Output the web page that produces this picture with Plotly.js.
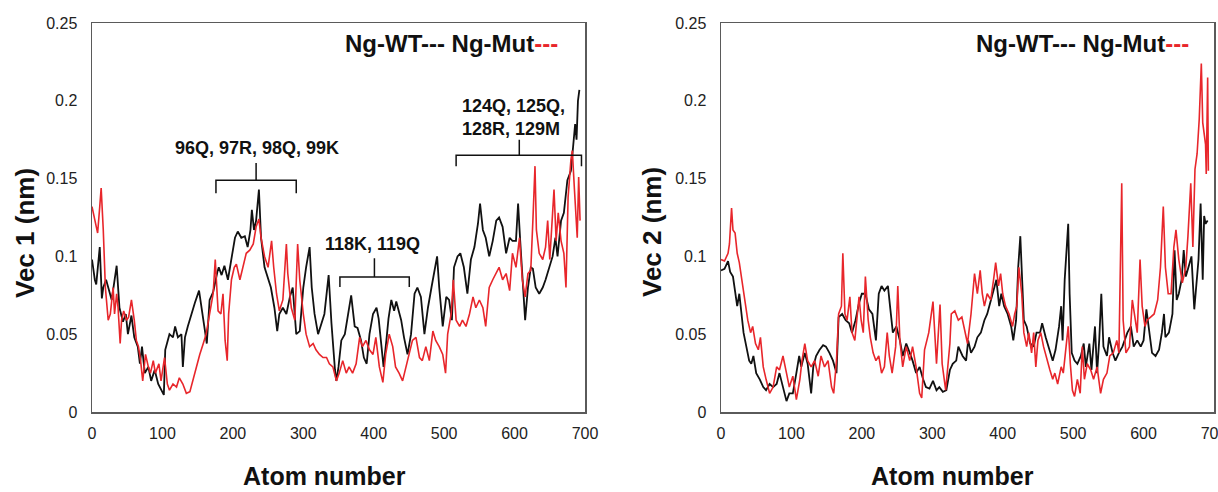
<!DOCTYPE html>
<html>
<head>
<meta charset="utf-8">
<script src="https://cdn.plot.ly/plotly-3.0.1.min.js"></script>
<style>html,body{margin:0;padding:0;background:#fff;}#chart{width:1218px;height:492px;}</style>
</head>
<body>
<div id="chart"></div>
<script>
// ---- Data: Vec 1 (left panel) ----
const wt1Atom = [0,4,6,11,14,16,20,24,28,35,39,44,48,51,56,60,65,68,71,75,80,84,89,94,98,102,104,107,110,115,118,122,127,129,132,136,141,146,152,156,160,163,167,172,178,180,184,188,193,198,203,207,212,217,221,225,227,230,233,237,240,245,250,254,259,263,266,271,276,281,285,290,295,300,304,309,312,316,321,326,330,336,340,345,347,350,354,359,363,368,373,377,382,386,390,394,399,404,407,411,414,418,421,425,429,432,436,439,443,448,453,458,462,467,472,477,482,488,490,493,498,503,507,511,514,519,523,528,533,538,543,548,551,555,559,564,569,574,578,583,588,593,597,602,605,608,611,615,619,623,626,630,635,640,644,649,654,658,661,666,670,675,680,683,686,688,690,692];
const wt1Vec = [0.098,0.085,0.082,0.106,0.073,0.08,0.085,0.078,0.072,0.094,0.067,0.058,0.063,0.05,0.062,0.048,0.042,0.031,0.042,0.025,0.029,0.02,0.027,0.018,0.014,0.011,0.04,0.045,0.05,0.048,0.055,0.048,0.05,0.029,0.048,0.055,0.063,0.07,0.078,0.065,0.052,0.044,0.072,0.077,0.09,0.093,0.088,0.094,0.085,0.1,0.112,0.116,0.112,0.113,0.106,0.117,0.13,0.117,0.123,0.143,0.112,0.093,0.085,0.08,0.067,0.052,0.063,0.067,0.063,0.074,0.08,0.05,0.052,0.08,0.093,0.106,0.08,0.063,0.05,0.057,0.063,0.088,0.057,0.027,0.02,0.029,0.046,0.05,0.06,0.075,0.055,0.054,0.046,0.035,0.031,0.05,0.063,0.067,0.06,0.042,0.029,0.046,0.06,0.072,0.065,0.071,0.065,0.059,0.048,0.037,0.05,0.076,0.08,0.074,0.05,0.067,0.08,0.095,0.1,0.08,0.055,0.074,0.072,0.059,0.093,0.1,0.102,0.093,0.076,0.098,0.106,0.121,0.134,0.117,0.112,0.1,0.11,0.123,0.125,0.119,0.102,0.112,0.11,0.11,0.134,0.11,0.085,0.059,0.08,0.093,0.092,0.08,0.076,0.08,0.085,0.093,0.1,0.112,0.1,0.123,0.128,0.149,0.155,0.17,0.185,0.175,0.2,0.207];

const mut1Atom = [0,4,8,11,13,16,19,23,26,30,32,35,37,40,42,45,49,52,56,60,63,66,69,72,76,80,83,87,90,95,98,103,107,110,115,120,124,129,134,139,143,148,153,158,162,167,172,175,179,183,186,189,192,194,198,202,205,210,214,219,224,229,233,237,240,245,250,255,258,262,266,271,276,278,283,288,292,295,300,304,309,314,318,323,328,333,337,342,347,351,356,361,365,370,375,380,384,389,394,399,403,408,413,417,422,427,431,436,441,446,450,455,460,465,469,474,479,484,488,493,498,502,505,510,513,517,522,526,531,536,541,545,550,555,559,564,569,574,578,583,588,593,597,602,607,611,615,619,623,626,629,631,635,640,644,647,650,654,656,659,662,666,670,673,676,680,682,685,687,689,691,693];
const mut1Vec = [0.132,0.123,0.115,0.132,0.144,0.117,0.08,0.059,0.063,0.08,0.063,0.076,0.067,0.044,0.059,0.065,0.059,0.061,0.072,0.059,0.046,0.042,0.033,0.02,0.037,0.029,0.025,0.033,0.025,0.031,0.02,0.035,0.018,0.014,0.018,0.016,0.022,0.018,0.012,0.013,0.02,0.029,0.037,0.044,0.05,0.063,0.076,0.098,0.065,0.063,0.076,0.046,0.033,0.063,0.085,0.093,0.095,0.085,0.093,0.102,0.104,0.108,0.119,0.124,0.112,0.1,0.093,0.11,0.093,0.076,0.065,0.072,0.108,0.089,0.067,0.059,0.108,0.085,0.063,0.05,0.042,0.044,0.04,0.037,0.035,0.035,0.031,0.029,0.02,0.025,0.033,0.025,0.029,0.025,0.031,0.048,0.042,0.046,0.04,0.037,0.048,0.029,0.019,0.037,0.05,0.042,0.029,0.025,0.02,0.029,0.037,0.046,0.048,0.035,0.033,0.042,0.033,0.052,0.046,0.042,0.037,0.025,0.05,0.063,0.085,0.059,0.055,0.059,0.055,0.063,0.074,0.067,0.072,0.067,0.055,0.08,0.085,0.089,0.093,0.085,0.089,0.078,0.102,0.093,0.112,0.085,0.074,0.089,0.091,0.123,0.158,0.117,0.102,0.098,0.106,0.123,0.098,0.128,0.143,0.11,0.128,0.11,0.102,0.08,0.138,0.162,0.168,0.143,0.128,0.112,0.151,0.123];

// ---- Data: Vec 2 (right panel) ----
const wt2Atom = [0,5,10,13,17,20,23,26,29,32,36,40,43,46,50,55,60,64,69,74,79,83,88,93,97,102,107,111,114,119,123,128,131,135,140,145,149,154,159,164,167,172,177,182,186,191,196,200,205,210,215,220,224,228,232,237,240,244,249,254,258,263,268,272,277,282,287,291,296,301,306,310,315,320,325,329,334,337,343,348,351,355,360,364,369,374,378,383,388,391,395,398,402,407,412,415,419,422,425,427,430,434,439,444,448,453,456,461,466,471,475,480,483,485,488,491,493,495,498,502,506,511,515,518,523,526,531,534,537,540,543,548,551,556,560,565,570,577,582,586,591,596,600,604,608,612,617,622,626,629,631,636,641,644,647,650,654,657,660,664,668,672,675,678,681,684,686,688,691];
const wt2Vec = [0.091,0.092,0.097,0.09,0.087,0.078,0.068,0.076,0.063,0.051,0.042,0.033,0.031,0.036,0.025,0.021,0.016,0.014,0.018,0.016,0.018,0.025,0.016,0.007,0.012,0.012,0.025,0.036,0.029,0.038,0.031,0.012,0.029,0.036,0.04,0.043,0.042,0.038,0.033,0.025,0.061,0.063,0.059,0.057,0.051,0.059,0.07,0.076,0.076,0.066,0.063,0.046,0.076,0.081,0.078,0.081,0.068,0.051,0.055,0.046,0.036,0.044,0.038,0.033,0.025,0.029,0.021,0.016,0.015,0.02,0.014,0.016,0.013,0.014,0.027,0.031,0.033,0.042,0.036,0.033,0.046,0.038,0.042,0.048,0.051,0.059,0.063,0.072,0.081,0.085,0.068,0.076,0.068,0.063,0.055,0.046,0.059,0.093,0.113,0.093,0.059,0.055,0.044,0.042,0.051,0.051,0.057,0.048,0.04,0.033,0.04,0.055,0.068,0.046,0.085,0.108,0.121,0.076,0.038,0.033,0.031,0.036,0.044,0.029,0.044,0.027,0.055,0.025,0.046,0.076,0.042,0.036,0.048,0.038,0.033,0.038,0.042,0.051,0.055,0.042,0.046,0.042,0.046,0.066,0.051,0.038,0.036,0.04,0.051,0.063,0.048,0.051,0.063,0.104,0.072,0.076,0.085,0.104,0.087,0.093,0.1,0.066,0.085,0.098,0.134,0.085,0.126,0.121,0.123];

const mut2Atom = [0,5,10,12,15,17,20,23,26,29,32,35,38,42,45,49,53,56,60,64,69,74,79,83,88,93,97,102,107,112,115,119,123,128,133,138,142,147,152,157,160,164,167,171,173,176,179,183,186,190,192,196,199,202,205,209,212,216,220,224,228,232,236,239,243,248,251,254,258,263,268,272,277,282,285,289,295,301,306,311,314,319,325,327,332,337,342,345,350,355,360,364,368,371,374,378,383,387,390,394,397,400,404,409,414,417,420,423,427,430,434,437,441,444,447,450,454,458,463,467,471,474,478,483,486,490,493,496,499,502,506,510,513,516,520,525,529,534,539,543,548,552,557,562,565,569,571,575,580,584,587,591,595,598,602,605,610,615,620,624,628,631,635,639,643,646,650,655,660,663,667,670,673,676,679,682,684,686,688,689,691,692];
const mut2Vec = [0.098,0.097,0.102,0.108,0.131,0.117,0.115,0.102,0.096,0.087,0.076,0.066,0.059,0.051,0.055,0.044,0.04,0.048,0.029,0.021,0.012,0.016,0.029,0.027,0.036,0.025,0.016,0.023,0.008,0.021,0.033,0.044,0.033,0.029,0.033,0.023,0.036,0.029,0.033,0.016,0.012,0.033,0.063,0.068,0.102,0.063,0.059,0.074,0.051,0.046,0.055,0.074,0.059,0.051,0.087,0.059,0.048,0.038,0.033,0.036,0.025,0.029,0.051,0.036,0.025,0.042,0.081,0.046,0.029,0.042,0.033,0.042,0.029,0.012,0.009,0.04,0.051,0.071,0.031,0.069,0.031,0.014,0.044,0.063,0.065,0.059,0.061,0.055,0.044,0.063,0.089,0.076,0.091,0.076,0.068,0.076,0.072,0.085,0.096,0.081,0.089,0.076,0.068,0.063,0.055,0.063,0.068,0.093,0.076,0.051,0.042,0.051,0.038,0.051,0.029,0.046,0.051,0.042,0.033,0.027,0.021,0.025,0.018,0.029,0.025,0.042,0.055,0.031,0.014,0.01,0.021,0.012,0.042,0.021,0.031,0.027,0.021,0.029,0.012,0.021,0.025,0.036,0.038,0.046,0.038,0.147,0.059,0.038,0.042,0.072,0.063,0.051,0.098,0.068,0.055,0.059,0.061,0.063,0.072,0.093,0.132,0.093,0.076,0.076,0.106,0.117,0.098,0.083,0.093,0.113,0.147,0.106,0.156,0.166,0.188,0.224,0.186,0.18,0.172,0.153,0.215,0.155];

const xTicks = [0,100,200,300,400,500,600,700];
const yTicks = [0,0.05,0.1,0.15,0.2,0.25];
const seriesNames = ['Ng-WT','Ng-Mut'];
const siteLabels = ['96Q, 97R, 98Q, 99K','118K, 119Q','124Q, 125Q,<br>128R, 129M'];

// ---- Plot ----
const W = 1218, H = 492;
const px = v => v / W;
const py = v => 1 - v / H;
const FONT = 'Liberation Sans, Arial, sans-serif';
const BLACK = '#111111', RED = '#e8262b';

const traces = [
  {x: wt1Atom, y: wt1Vec, xaxis:'x', yaxis:'y', name: seriesNames[0], mode:'lines', line:{color:BLACK, width:1.8}},
  {x: mut1Atom, y: mut1Vec, xaxis:'x', yaxis:'y', name: seriesNames[1], mode:'lines', line:{color:RED, width:1.6}},
  {x: wt2Atom, y: wt2Vec, xaxis:'x2', yaxis:'y2', name: seriesNames[0], mode:'lines', line:{color:BLACK, width:1.8}},
  {x: mut2Atom, y: mut2Vec, xaxis:'x2', yaxis:'y2', name: seriesNames[1], mode:'lines', line:{color:RED, width:1.6}}
];

const axBase = {
  showline:true, mirror:true, linecolor:'#5a5a5a', linewidth:1.5,
  showgrid:false, zeroline:false, ticks:'',
  tickfont:{family:FONT, size:16, color:'#222'}, ticklabeloverflow:'allow'
};
const xAx = (dom, anchor) => Object.assign({}, axBase, {domain:dom, anchor:anchor, range:[0,700], tickmode:'array', tickvals:xTicks, ticktext:xTicks.map(String), ticklabelstandoff:6});
const yAx = (anchor) => Object.assign({}, axBase, {domain:[80/H, 469/H], anchor:anchor, range:[0,0.25], tickmode:'array', tickvals:yTicks, ticktext:yTicks.map(String), ticklabelstandoff:10});

function bracket(x0, x1, xc, yEnd, yBar, yTop) {
  return {type:'path', xref:'x', yref:'y',
    path:`M ${x0},${yEnd} L ${x0},${yBar} L ${x1},${yBar} L ${x1},${yEnd} M ${xc},${yBar} L ${xc},${yTop}`,
    line:{color:'#111', width:1.5}};
}

const legendText = `<b>${seriesNames[0]}--- ${seriesNames[1]}<span style="color:${RED}">---</span></b>`;

const annBase = {xref:'paper', yref:'paper', showarrow:false, xanchor:'center', yanchor:'middle', font:{family:FONT, color:'#111'}};
const ann = (o) => Object.assign({}, annBase, o, {font:Object.assign({}, annBase.font, o.font||{})});

const layout = {
  width:W, height:H, margin:{l:0,r:0,t:0,b:0}, showlegend:false,
  paper_bgcolor:'#fff', plot_bgcolor:'#fff',
  xaxis: xAx([92/W, 585/W], 'y'),
  yaxis: yAx('x'),
  xaxis2: xAx([721/W, 1214/W], 'y2'),
  yaxis2: yAx('x2'),
  shapes: [
    bracket(176, 290, 233, 0.1406, 0.149, 0.16),
    bracket(352, 450.5, 401, 0.0803, 0.0867, 0.0988),
    bracket(517, 695, 606.7, 0.158, 0.165, 0.175)
  ],
  annotations: [
    ann({x:px(25), y:py(233), text:'<b>Vec 1 (nm)</b>', textangle:-90, font:{size:26}}),
    ann({x:px(652), y:py(232), text:'<b>Vec 2 (nm)</b>', textangle:-90, font:{size:26}}),
    ann({x:px(324), y:py(476), text:'<b>Atom number</b>', font:{size:25}}),
    ann({x:px(952), y:py(476), text:'<b>Atom number</b>', font:{size:25}}),
    ann({x:px(451.5), y:py(43), text:legendText, font:{size:24}}),
    ann({x:px(1082), y:py(43), text:legendText, font:{size:24}}),
    ann({x:px(257), y:py(148), text:'<b>'+siteLabels[0]+'</b>', font:{size:18}}),
    ann({x:px(372.5), y:py(244), text:'<b>'+siteLabels[1]+'</b>', font:{size:18}}),
    ann({x:px(460), y:py(117), xanchor:'left', align:'left', text:'<b>'+siteLabels[2]+'</b>', font:{size:18}})
  ]
};

Plotly.newPlot('chart', traces, layout, {staticPlot:true, displayModeBar:false});
</script>
</body>
</html>
